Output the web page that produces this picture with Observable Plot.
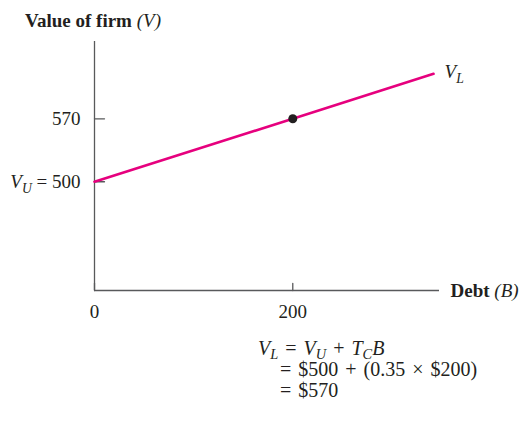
<!DOCTYPE html>
<html>
<head>
<meta charset="utf-8">
<script src="https://cdn.jsdelivr.net/npm/d3@7"></script>
<script src="https://cdn.jsdelivr.net/npm/@observablehq/plot@0.6"></script>
<style>
  html, body { margin: 0; padding: 0; background: #fff; }
  #wrap { position: relative; width: 521px; height: 427px; overflow: hidden; }
  .t { position: absolute; font-family: "Liberation Serif", "Times New Roman", serif; font-size: 19px; line-height: 19px; color: #231f20; white-space: nowrap; }
  .f { font-size: 20px; line-height: 20px; word-spacing: 2px; }
  .t sub { font-size: 0.72em; vertical-align: -0.28em; line-height: 0; font-style: italic; }
</style>
</head>
<body>
<div id="wrap">
  <div id="chart"></div>
  <div class="t" id="title"><b>Value of firm</b> <i>(V)</i></div>
  <div class="t f" id="f1"></div>
  <div class="t f" id="f2"></div>
  <div class="t f" id="f3"></div>
</div>
<script>
// ---- data ----
const debtB = [0, 200, 342];          // debt (B)
const valueV = [500, 570, 620];       // value of levered firm V_L
const pointB = [200];
const pointV = [570];
const yTickValues = [500, 570];
const yTickLabels = ["V_U = 500", "570"];
const xTickValues = [0, 200];
const xTickLabels = ["0", "200"];
const xDomain = [0, 348];
const yDomain = [379, 656];
const titleText = "Value of firm (V)";
const xAxisText = "Debt (B)";
const lineLabel = "V_L";
const formulaLines = ["V_L = V_U + T_C B", "= $500 + (0.35 × $200)", "= $570"];

// ---- styles ----
const axisColor = "#58595b";
const lineColor = "#e6007e";
const inkColor = "#231f20";
const font = "Liberation Serif";
const fs = 19;

const lineData = debtB.map((b, i) => ({B: b, V: valueV[i]}));
const pointData = pointB.map((b, i) => ({B: b, V: pointV[i]}));
const yTicks = yTickValues.map((v, i) => ({v, label: yTickLabels[i]}));
const xTicks = xTickValues.map((v, i) => ({v, label: xTickLabels[i]}));

const tickShape = {draw(context, l) { context.moveTo(0, 0); context.lineTo(0, -l); }};

const chart = Plot.plot({
  width: 521,
  height: 427,
  marginLeft: 94,
  marginRight: 82,
  marginTop: 41,
  marginBottom: 137,
  style: {fontFamily: font, fontSize: fs + "px", color: inkColor, background: "transparent"},
  x: {domain: xDomain, axis: null},
  y: {domain: yDomain, axis: null},
  marks: [
    Plot.ruleX([xDomain[0]], {stroke: axisColor, strokeWidth: 1.3}),
    Plot.ruleY([yDomain[0]], {stroke: axisColor, strokeWidth: 1.3}),
    Plot.vector(yTicks, {x: () => xDomain[0], y: "v", length: 10, rotate: 90, anchor: "start", shape: tickShape, stroke: axisColor, strokeWidth: 1.3}),
    Plot.vector(xTicks, {x: "v", y: () => yDomain[0], length: 7, rotate: 0, anchor: "start", shape: tickShape, stroke: axisColor, strokeWidth: 1.3}),
    Plot.text(yTicks, {x: () => xDomain[0], y: "v", text: "label", textAnchor: "end", dx: -14, lineAnchor: "middle", fontSize: fs, fill: inkColor}),
    Plot.text(xTicks, {x: "v", y: () => yDomain[0], text: "label", textAnchor: "middle", dy: 21, lineAnchor: "middle", fontSize: fs, fill: inkColor}),
    Plot.text([xAxisText], {x: () => xDomain[1], y: () => yDomain[0], text: d => d, textAnchor: "start", dx: 11, lineAnchor: "middle", fontSize: fs, fill: inkColor}),
    Plot.line(lineData, {x: "B", y: "V", stroke: lineColor, strokeWidth: 2.6}),
    Plot.text([lineLabel], {x: () => debtB[debtB.length - 1], y: () => valueV[valueV.length - 1], text: d => d, textAnchor: "start", dx: 11, dy: -2, lineAnchor: "middle", fontSize: fs, fill: inkColor}),
    Plot.dot(pointData, {x: "B", y: "V", r: 4.5, fill: inkColor, stroke: "none"})
  ]
});
document.getElementById("chart").appendChild(chart);

// rich text (italic variables, subscripts)
const it = s => `<tspan font-style="italic">${s}</tspan>`;
const sub = s => `<tspan font-style="italic" font-size="0.72em" dy="5">${s}</tspan>`;
const richSvg = {
  "V_U = 500": `${it("V")}${sub("U")}<tspan dy="-5"> = 500</tspan>`,
  "V_L": `${it("V")}${sub("L")}`,
  "Debt (B)": `<tspan font-weight="bold">Debt</tspan> ${it("(B)")}`
};
d3.select(chart).selectAll("text").each(function() {
  const t = this.textContent;
  if (richSvg[t]) this.innerHTML = richSvg[t];
});

// HTML annotations
const place = (id, left, top, html) => {
  const el = document.getElementById(id);
  el.style.left = left + "px"; el.style.top = top + "px";
  if (html != null) el.innerHTML = html;
};
const hi = s => `<i>${s}</i>`;
const hs = s => `<sub>${s}</sub>`;
place("title", 25, 11);
place("f1", 258, 338, `${hi("V")}${hs("L")} = ${hi("V")}${hs("U")} + ${hi("T")}${hs("C")}${hi("B")}`);
place("f2", 280, 359, formulaLines[1]);
place("f3", 280, 380, formulaLines[2]);
</script>
</body>
</html>
